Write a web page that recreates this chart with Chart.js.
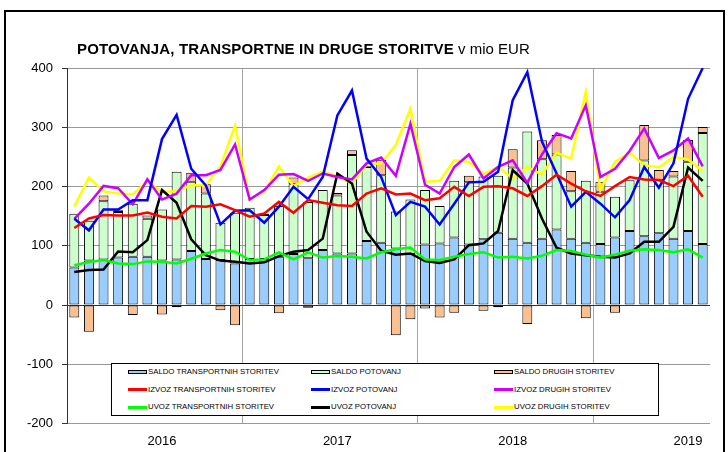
<!DOCTYPE html>
<html>
<head>
<meta charset="utf-8">
<script src="https://cdn.jsdelivr.net/npm/chart.js@4/dist/chart.umd.min.js"></script>
<style>
html,body{margin:0;padding:0;background:#fff;}
#wrap{position:relative;width:728px;height:452px;overflow:hidden;font-family:"Liberation Sans",Arial,sans-serif;background:#fff;}
#c{position:absolute;left:0;top:0;}
#frame{position:absolute;left:4px;top:10px;width:717px;height:470px;border:2px solid #000;pointer-events:none;}
#title{position:absolute;left:77px;top:41px;font-size:15px;line-height:15px;white-space:nowrap;color:#000;}
#title b{font-weight:bold;letter-spacing:0.15px;}
#legend{position:absolute;left:111px;top:363px;width:546px;height:51px;border:1px solid #000;background:#fff;}
.item{position:absolute;height:10px;white-space:nowrap;}
.item .sw{position:absolute;left:0;width:19px;box-sizing:border-box;}
.item .tx{position:absolute;left:20px;top:0;font-size:7.8px;line-height:10px;color:#000;}
</style>
</head>
<body>
<div id="wrap">
  <canvas id="c" width="728" height="452"></canvas>
  <div id="title"><b>POTOVANJA, TRANSPORTNE IN DRUGE STORITVE</b> v mio EUR</div>
  <div id="legend"></div>
  <div id="frame"></div>
</div>
<script>
// Categories: months Jan 2016 - Aug 2019
const categories = [
 'jan 16','feb 16','mar 16','apr 16','maj 16','jun 16','jul 16','avg 16','sep 16','okt 16','nov 16','dec 16',
 'jan 17','feb 17','mar 17','apr 17','maj 17','jun 17','jul 17','avg 17','sep 17','okt 17','nov 17','dec 17',
 'jan 18','feb 18','mar 18','apr 18','maj 18','jun 18','jul 18','avg 18','sep 18','okt 18','nov 18','dec 18',
 'jan 19','feb 19','mar 19','apr 19','maj 19','jun 19','jul 19','avg 19'
];
const yearTicks = ['2016','2017','2018','2019'];

// Bars (stacked)
const saldoTransport = [63.5,75,77,80,81.5,81.5,75,77,91,77.5,76,70, 77.5,77.5,81.5,86,79,93,87,87,108,105,95.5,86, 102,104,114,102,111,122,112,105,112,127.5,112,105, 103,114,125,116,121,112,125,103];
const saldoPotovanj  = [90.5,67,98,77,89.5,64,86,148,117,110.5,63,85.6, 86.5,74.5,85.5,118,95,101,98,166,125,114,62.5,92, 92,63,95.5,105,106,96,120,188,134,126.5,80,104.5, 88,68.6,85.7,128,89.7,105,116.6,187.4];
const saldoDrugih    = [-21,-45,10,3,-17,5.5,-16,-4,15,16,-9,-34, -1,2,-14,11,-4.5,0,4,8,1,26,-51,-24, -6,-21,-13,11,-9.5,-4,31,-32,32,33,34,-22.5, 17,-13,0,60,17,9,37,10];

// Lines
const izvozTransport = [130,146,152,151,151,156,149,146,167,166,170,160, 149,154.5,174,155.6,177,172.5,168.5,167,188,197,186.5,188, 177,180,199.4,184,199.4,200.6,197,184,200.6,220,205,192, 184,200.6,216,212,211,200.6,218,182.6];
const izvozPotovanj  = [145.5,126,161,161,177,177,280,321,230,202,136,159, 160,139,166,199.4,178.6,216,320,362,247,216,151.7,174, 166,136,171,207,208,225,345.5,393,276,222,166,191, 171,148,177,233,198,239,348,400];
const izvozDrugih    = [145.5,171,201,197,170,212,178,188,219,219,228,271, 178,194,220,221,209.5,222,216,212,239,249,218,306, 203,188,233,254,213.5,233,244,206,254,290,281,337, 216,230,260,298,248,261,281,234];
const uvozTransport  = [67,72.5,76,70,69,73.6,73,70,78,87,93,90, 76,77,89,77,89,80,82.6,81.5,78.6,89,94,97, 77,76,81.5,86,89,80,81.5,78.6,83,92.7,91,85, 80,85,91.6,94,92.7,89,94,80];
const uvozPotovanj   = [55.6,59,60,90.4,89,109.5,194,172.5,111,84,75,73, 70,72,82.6,90,92.7,112,222,205,123.6,91.6,85,87, 74,71,77,101,104,125,227.5,205,146,96.6,87,84, 81.5,80,87,106.7,106.7,132,232,209.5];
const uvozDrugih     = [166,215,192,188,187,208,191,192,202,202,234,303, 178,191,234,200.6,215,225,217,205,237.6,239,270,331, 208,209.5,244,241.6,221,233,213.5,233,220,257,247,359.6, 194,241.6,257,236,232,250,245.5,226];

const FONT = '"Liberation Sans", Arial, sans-serif';

function bar(label, data, color){
  return {type:'bar', label, data, backgroundColor:color, borderColor:'#000', borderWidth:1,
    borderSkipped:false, barPercentage:0.68, categoryPercentage:1, order:2};
}
function line(label, data, color, key){
  return {type:'line', label, data, borderColor:color, backgroundColor:color, borderWidth:2.5,
    pointRadius:0, tension:0, fill:false, stack:key, order:1};
}

const datasets = [
  bar('SALDO TRANSPORTNIH STORITEV', saldoTransport, '#99CCFF'),
  bar('SALDO POTOVANJ', saldoPotovanj, '#CCFFCC'),
  bar('SALDO DRUGIH STORITEV', saldoDrugih, '#FBC08F'),
  line('IZVOZ TRANSPORTNIH STORITEV', izvozTransport, '#FF0000', 'l1'),
  line('IZVOZ POTOVANJ', izvozPotovanj, '#0000FF', 'l2'),
  line('IZVOZ DRUGIH STORITEV', izvozDrugih, '#CC00FF', 'l3'),
  line('UVOZ TRANSPORTNIH STORITEV', uvozTransport, '#00FF00', 'l4'),
  line('UVOZ POTOVANJ', uvozPotovanj, '#000000', 'l5'),
  line('UVOZ DRUGIH STORITEV', uvozDrugih, '#FFFF00', 'l6')
];

const chart = new Chart(document.getElementById('c'), {
  data:{labels:categories, datasets},
  options:{
    responsive:false, animation:false, devicePixelRatio:1,
    layout:{padding:{left:0,right:18,top:68,bottom:0}},
    plugins:{legend:{display:false}, title:{display:false}, tooltip:{enabled:false}},
    scales:{
      x:{
        stacked:true,
        grid:{offset:true, drawTicks:false, lineWidth:1,
          color:c => (c.index>0 && c.index%12===0) ? '#a6a6a6' : 'rgba(0,0,0,0)'},
        border:{display:false},
        ticks:{autoSkip:false, maxRotation:0, minRotation:0, padding:10, color:'#000',
          font:{size:13, family:FONT},
          callback:(v,i) => (i%12===6) ? yearTicks[Math.floor(i/12)] : ''},
        afterFit:s => { s.height = 28.5; }
      },
      y:{
        stacked:true, min:-200, max:400,
        ticks:{stepSize:100, color:'#000', padding:9, font:{size:13, family:FONT}},
        grid:{color:c => (c.tick && c.tick.value===0) ? '#333' : '#999', tickLength:5, tickColor:'#333', lineWidth:1},
        border:{color:'#333', width:1},
        afterFit:s => { s.width = 67; }
      }
    }
  }
});

// HTML legend built from datasets (3 columns x 3 rows)
const leg = document.getElementById('legend');
const colX = [16, 199, 382];
const rowY = [3, 20.5, 38];
chart.data.datasets.forEach((ds, i) => {
  const it = document.createElement('div');
  it.className = 'item';
  it.style.left = colX[i % 3] + 'px';
  it.style.top = rowY[Math.floor(i / 3)] + 'px';
  const sw = document.createElement('div');
  sw.className = 'sw';
  if (ds.type === 'bar') {
    sw.style.top = '3px'; sw.style.height = '4px';
    sw.style.background = ds.backgroundColor; sw.style.border = '1px solid #000';
  } else {
    sw.style.top = '3.5px'; sw.style.height = '3px';
    sw.style.background = ds.borderColor;
  }
  const tx = document.createElement('span');
  tx.className = 'tx';
  tx.textContent = ds.label;
  it.appendChild(sw); it.appendChild(tx);
  leg.appendChild(it);
});
</script>
</body>
</html>
